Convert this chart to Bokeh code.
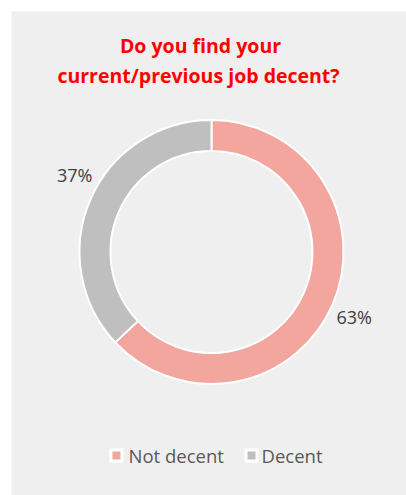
import math
from bokeh.plotting import figure
from bokeh.models import Range1d, ColumnDataSource
from bokeh.core.properties import value
from bokeh.embed import file_html
from bokeh.resources import INLINE

# ---- data ----
categories = ["Not decent", "Decent"]
values = [63, 37]
colors = ["#F2A69E", "#BFBFBF"]
title_lines = ["Do you find your", "current/previous job decent?"]

# ---- layout constants (pixels / degrees) ----
PAD = 11
W, H = 395, 484
CX, CY = 200, 243.5
R_OUT, R_IN = 132, 101
LABEL_R = 157
LABEL_ANGLE_NUDGE_DEG = [-1.2, -6.0]

p = figure(width=W + PAD, height=H + PAD, output_backend="svg", toolbar_location=None,
           x_range=Range1d(0, W), y_range=Range1d(0, H),
           min_border_left=PAD, min_border_top=PAD, min_border_right=0, min_border_bottom=0)
p.border_fill_color = "white"
p.background_fill_color = "#EFEFEF"
p.outline_line_color = None
p.axis.visible = False
p.grid.visible = False

total = float(sum(values))
starts, ends, lx, ly, labels = [], [], [], [], []
cum = 0.0
for v, nudge in zip(values, LABEL_ANGLE_NUDGE_DEG):
    a0 = math.pi / 2 - 2 * math.pi * cum / total
    a1 = math.pi / 2 - 2 * math.pi * (cum + v) / total
    starts.append(a0)
    ends.append(a1)
    mid = (a0 + a1) / 2 + math.radians(nudge)
    lx.append(CX + LABEL_R * math.cos(mid))
    ly.append(CY + LABEL_R * math.sin(mid))
    labels.append(f"{v / total * 100:.0f}%")
    cum += v

src = ColumnDataSource(dict(cat=categories, start=starts, end=ends, color=colors,
                            lx=lx, ly=ly, label=labels))

p.annular_wedge(x=CX, y=CY, inner_radius=R_IN, outer_radius=R_OUT,
                start_angle="start", end_angle="end", direction="clock",
                fill_color="color", line_color="white", line_width=2, source=src)

p.text(x="lx", y="ly", text="label", source=src, text_align="center",
       text_baseline="middle", text_font=value("Open Sans"),
       text_font_size="18px", text_color="#404040")

# title
p.text(x=[189, 187], y=[450, 420], text=title_lines, text_align="center",
       text_baseline="middle", text_font=value("Open Sans"), text_font_style="bold",
       text_font_size="19.5px", text_color="#FF0000")

# legend
mx = [105, 240]
tx = [117, 250]
leg_y = 40
p.rect(x=mx, y=[leg_y] * 2, width=14, height=14, fill_color="white", line_color=None)
p.rect(x=mx, y=[leg_y] * 2, width=8, height=8, fill_color=colors, line_color=None)
p.text(x=tx, y=[leg_y] * 2, text=categories, text_align="left", text_baseline="middle",
       text_font=value("Open Sans"), text_font_size="18.5px", text_color="#595959")

open("out.html", "w").write(file_html(p, INLINE))
